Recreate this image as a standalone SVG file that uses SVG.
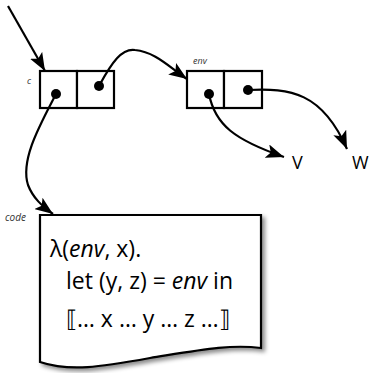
<svg xmlns="http://www.w3.org/2000/svg" width="371" height="373" viewBox="0 0 371 373">
<defs>
<marker id="ah" markerUnits="userSpaceOnUse" markerWidth="20" markerHeight="14" refX="18" refY="7" orient="auto">
<path d="M0,0 L18,7 L0,14 L4,7 Z" fill="#000"/>
</marker>
<filter id="sh" x="-10%" y="-10%" width="130%" height="130%">
<feDropShadow dx="3" dy="3" stdDeviation="2" flood-color="#000" flood-opacity="0.45"/>
</filter>
</defs>
<style>
.box{fill:#fff;stroke:#000;stroke-width:2.2}
.dot{fill:#000}
.conn{fill:none;stroke:#000;stroke-width:2.2;marker-end:url(#ah)}
.lbl{font-family:"Open Sans","Liberation Sans",sans-serif;font-style:italic;fill:#333}
.code{font-family:"Open Sans","Liberation Sans",sans-serif;font-size:23px;fill:#000}
.vw{font-family:"Open Sans","Liberation Sans",sans-serif;font-size:18px;fill:#000}
</style>
<g id="c">
<rect class="box" x="40" y="71" width="37" height="37"/>
<rect class="box" x="77" y="71" width="37" height="37"/>
<circle class="dot" cx="56" cy="94" r="5"/>
<circle class="dot" cx="99" cy="86" r="5"/>
<text class="lbl" x="27" y="84" font-size="9">c</text>
</g>
<g id="env">
<rect class="box" x="187" y="71" width="37" height="37"/>
<rect class="box" x="224" y="71" width="38" height="37"/>
<circle class="dot" cx="209" cy="94" r="5"/>
<circle class="dot" cx="248" cy="90" r="5"/>
<text class="lbl" x="193" y="64" font-size="9">env</text>
</g>
<g id="code">
<path class="box" filter="url(#sh)" d="M40,215 L261,215 L261,348 C230,344 200,350 150,358 C100,367 70,372 40,362 Z"/>
<text class="lbl" x="5" y="221" font-size="10">code</text>
<text class="code" x="50" y="257">λ(<tspan font-style="italic">env</tspan>, x).</text>
<text class="code" x="66" y="289">let (y, z) = <tspan font-style="italic">env</tspan> in</text>
<text class="code" x="66" y="327">⟦… x … y … z …⟧</text>
</g>
<g id="V"><text class="vw" x="292" y="169">V</text></g>
<g id="W"><text class="vw" x="352" y="169">W</text></g>
<g id="connectors">
<path class="conn" d="M8,6 L45,71"/>
<path class="conn" d="M99,86 C112,62 122,48 135,50 C155,52 168,66 187,79"/>
<path class="conn" d="M56,94 C40,125 20,160 28,185 C33,198 42,206 53,214"/>
<path class="conn" d="M209,94 C215,125 235,140 284,157"/>
<path class="conn" d="M248,90 C290,88 322,92 347,149"/>
</g>
</svg>
